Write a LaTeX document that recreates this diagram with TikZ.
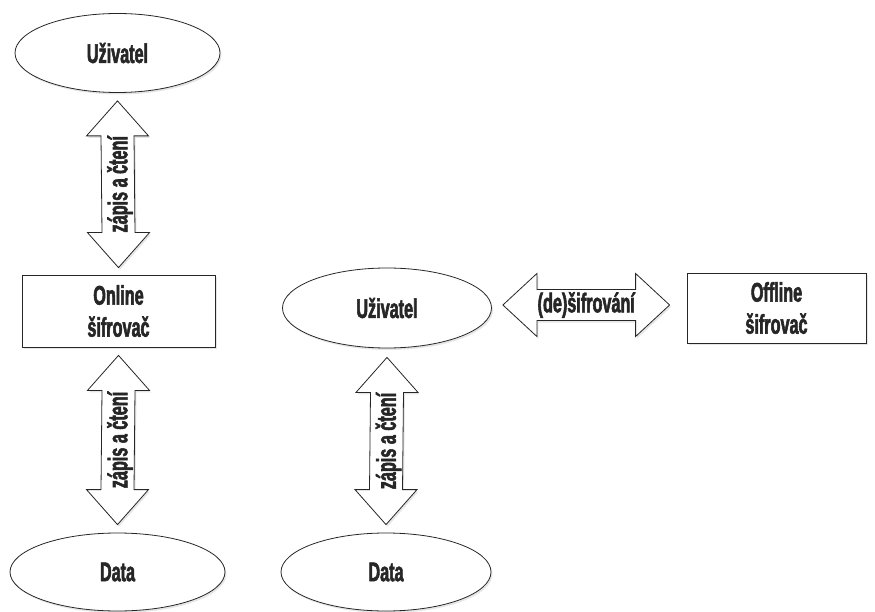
\documentclass[tikz,border=0pt]{standalone}
\usepackage{fontspec}
\setmainfont{Liberation Sans}[FakeStretch=0.6, BoldFeatures={FakeBold=2}]
\usetikzlibrary{shapes.geometric,calc,shadows}
\tikzset{
  lbl/.style={font=\bfseries\fontsize{27}{32}\selectfont, text=black!85},
  shp/.style={draw=black!85, line width=0.8pt, fill=white, lbl,
    drop shadow={shadow xshift=1.5pt, shadow yshift=-2pt, opacity=0.2}},
  ell/.style={shp, ellipse, inner sep=0pt},
  boxn/.style={shp, rectangle, align=center, inner sep=0pt},
  bigarrow/.style={draw=black!85, line width=0.8pt, fill=white, line join=miter,
    drop shadow={shadow xshift=1.5pt, shadow yshift=-2pt, opacity=0.2}},
}
\newcommand\vbigarrow[3]{%
  \draw[bigarrow] (#1) -- ($(#1)+(31,35)$) -- ($(#1)+(16.5,35)$) -- ($(#2)+(16.5,-35)$)
    -- ($(#2)+(31,-35)$) -- (#2) -- ($(#2)+(-31,-35)$) -- ($(#2)+(-16.5,-35)$)
    -- ($(#1)+(-16.5,35)$) -- ($(#1)+(-31,35)$) -- cycle;
  \node[lbl, rotate=90] at ($(#1)!0.5!(#2)+(2,0)$) {#3};}
\newcommand\hbigarrow[3]{%
  \draw[bigarrow] (#1) -- ($(#1)+(34,-31.5)$) -- ($(#1)+(34,-15.5)$) -- ($(#2)+(-34,-15.5)$)
    -- ($(#2)+(-34,-31.5)$) -- (#2) -- ($(#2)+(-34,31.5)$) -- ($(#2)+(-34,15.5)$)
    -- ($(#1)+(34,15.5)$) -- ($(#1)+(34,31.5)$) -- cycle;
  \node[lbl] at ($(#1)!0.5!(#2)$) {#3};}
\begin{document}
\begin{tikzpicture}[x=1pt,y=-1pt]
\useasboundingbox (0,0) rectangle (875,612);
% left column
\node[ell, minimum width=205pt, minimum height=79pt] (u1) at (117.5,53) {Uživatel};
\node[boxn, minimum width=193pt, minimum height=72pt] (on) at (118.5,311) {Online\\šifrovač};
\node[ell, minimum width=215pt, minimum height=78pt] (d1) at (117.5,572) {Data};
% middle column
\node[ell, minimum width=209pt, minimum height=80pt] (u2) at (387,308) {Uživatel};
\node[ell, minimum width=210pt, minimum height=78pt] (d2) at (386,572) {Data};
% right
\node[boxn, minimum width=179pt, minimum height=70pt] (off) at (776.5,308) {Offline\\šifrovač};
% arrows
\coordinate (a1t) at ($(u1.south)+(0,8)$);
\coordinate (a1b) at ($(on.north)+(0,-7)$);
\vbigarrow{a1t}{a1b}{zápis a čtení}
\coordinate (a2t) at ($(on.south)+(0,8)$);
\coordinate (a2b) at ($(d1.north)+(0,-8)$);
\vbigarrow{a2t}{a2b}{zápis a čtení}
\coordinate (a3t) at ($(u2.south)+(0,9)$);
\coordinate (a3b) at ($(d2.north)+(0,-8)$);
\vbigarrow{a3t}{a3b}{zápis a čtení}
\coordinate (h1l) at ($(u2.east)+(11,-3)$);
\coordinate (h1r) at ($(off.west)+(-17,-3)$);
\hbigarrow{h1l}{h1r}{(de)šifrování}
\end{tikzpicture}
\end{document}
